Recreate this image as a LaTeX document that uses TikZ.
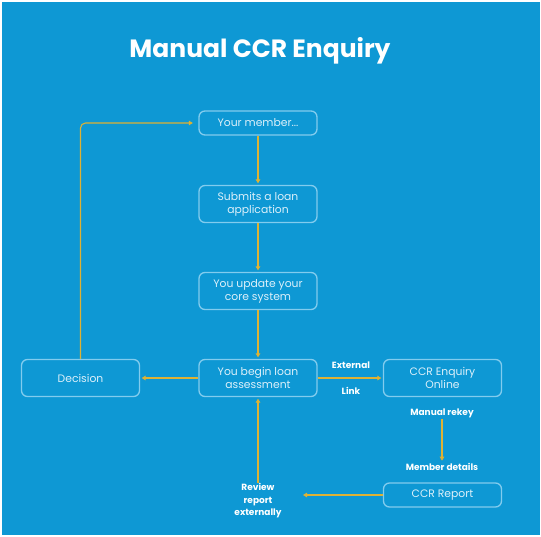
\documentclass[tikz,border=0pt]{standalone}
\usepackage{fontspec}
\setmainfont{Poppins}
\usetikzlibrary{arrows.meta}
\definecolor{bg}{RGB}{14,152,212}
\definecolor{edge}{RGB}{130,204,238}
\definecolor{boxtext}{RGB}{220,240,250}
\definecolor{gold}{RGB}{222,178,52}
\tikzset{
  stepbox/.style={draw=edge, line width=1.3pt, rounded corners=6pt, minimum width=118pt, align=center, text=boxtext, font=\fontsize{10.8}{12.8}\selectfont, inner sep=2pt},
  lbl/.style={text=white, font=\fontsize{9}{12.5}\selectfont\bfseries, align=center, inner sep=1pt},
  conn/.style={draw=gold, line width=1.1pt, -{Triangle[length=4pt,width=4.5pt]}, shorten >=1.5pt}
}
\begin{document}
\begin{tikzpicture}[x=1pt,y=-1pt]
\fill[white] (0,0) rectangle (541,536);
\fill[bg] (1.5,1.5) rectangle (539.5,534.5);
\node[text=white, font=\fontsize{25}{28}\selectfont\bfseries] (title) at (260,51) {Manual CCR Enquiry};

\node[stepbox, minimum height=24pt] (m) at (258,123) {Your member...};
\node[stepbox, minimum height=37pt] (s) at (258,204) {Submits a loan\\application};
\node[stepbox, minimum height=37pt] (u) at (258,291) {You update your\\core system};
\node[stepbox, minimum height=37pt] (b) at (258,378) {You begin loan\\assessment};
\node[stepbox, minimum height=37pt] (d) at (80.5,378) {Decision};
\node[stepbox, minimum height=37pt] (c) at (442.5,378) {CCR Enquiry\\Online};
\node[stepbox, minimum height=24pt] (r) at (442.5,495) {CCR Report};

\node[lbl] (ext) at (351,365) {External};
\node[lbl] (lnk) at (351,391) {Link};
\node[lbl] (mr) at (442,413) {Manual rekey};
\node[lbl] (md) at (442,467) {Member details};
\node[lbl] (rv) at (258,501) {Review\\report\\externally};
\coordinate (rvtip) at (303,495);

\draw[conn] (m) -- (s);
\draw[conn] (s) -- (u);
\draw[conn] (u) -- (b);
\draw[conn] (b) -- (d);
\draw[conn] (b) -- (c);
\draw[conn] (mr) -- (md);
\draw[conn, shorten >=0pt] (r.west) -- (rvtip);
\draw[conn] (rv) -- (b);
\draw[conn, rounded corners=5pt] (d.north) |- ([xshift=-4pt]m.west);
\end{tikzpicture}
\end{document}
